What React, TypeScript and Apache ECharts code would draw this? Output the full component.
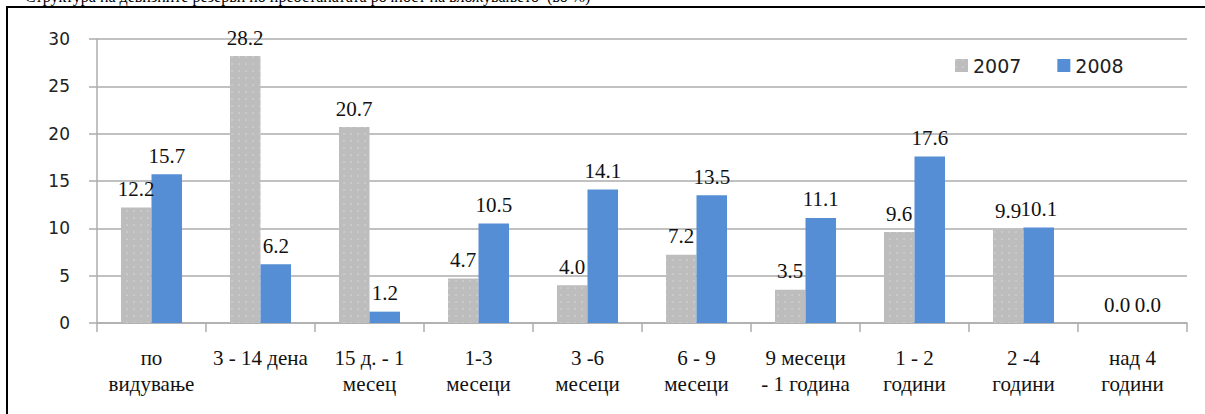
import React, { useEffect, useRef } from "react";
import * as echarts from "echarts";

// Maturity buckets (two-line labels as printed under the axis)
const categories = [
  "по\nвидување",
  "3 - 14 дена",
  "15 д. - 1\nмесец",
  "1-3\nмесеци",
  "3 -6\nмесеци",
  "6 - 9\nмесеци",
  "9 месеци\n- 1 година",
  "1 - 2\nгодини",
  "2 -4\nгодини",
  "над 4\nгодини",
];

const seriesNames = ["2007", "2008"];
const values2007 = [12.2, 28.2, 20.7, 4.7, 4.0, 7.2, 3.5, 9.6, 9.9, 0.0];
const values2008 = [15.7, 6.2, 1.2, 10.5, 14.1, 13.5, 11.1, 17.6, 10.1, 0.0];

const yTicks = { min: 0, max: 30, interval: 5 };

const titleText =
  "Структура на девизните резерви по преостанатата рочност на вложувањето  (во %)";

const GRAY = "#BDBDBD";
const BLUE = "#558ED5";
const GRID = "#ADADAD";
const SERIF = "'Liberation Serif', 'Times New Roman', serif";
const SANS = "'DejaVu Sans', Verdana, sans-serif";

export default function App() {
  const ref = useRef<HTMLDivElement>(null);

  useEffect(() => {
    if (!ref.current) return;
    const chart = echarts.init(ref.current, null, { renderer: "svg" });

    const barLabel = {
      show: true,
      position: "top",
      distance: 8,
      fontFamily: SERIF,
      fontSize: 21,
      color: "#111",
      formatter: (p: any) => Number(p.value).toFixed(1),
    };

    chart.setOption({
      animation: false,
      backgroundColor: "#ffffff",
      grid: { left: 97, right: 18, top: 39, bottom: 91, containLabel: false },
      legend: {
        data: seriesNames,
        left: 950,
        top: 51,
        icon: "rect",
        itemWidth: 13,
        itemHeight: 13,
        itemGap: 36,
        textStyle: { fontFamily: SANS, fontSize: 19, color: "#222" },
      },
      xAxis: {
        type: "category",
        data: categories,
        boundaryGap: true,
        axisLine: { show: true, lineStyle: { color: GRID, width: 1.5 } },
        axisTick: { show: true, length: 9, lineStyle: { color: GRID, width: 1.5 } },
        axisLabel: {
          interval: 0,
          margin: 22,
          fontFamily: SERIF,
          fontSize: 21,
          lineHeight: 26,
          color: "#111",
        },
        splitLine: { show: false },
      },
      yAxis: {
        type: "value",
        min: yTicks.min,
        max: yTicks.max,
        interval: yTicks.interval,
        axisLine: { show: true, lineStyle: { color: GRID, width: 1.5 } },
        axisTick: { show: true, length: 8, lineStyle: { color: GRID, width: 1.5 } },
        axisLabel: { margin: 27, fontFamily: SANS, fontSize: 17, color: "#222" },
        splitLine: { show: true, lineStyle: { color: GRID, width: 1.5 } },
      },
      series: [
        {
          name: seriesNames[0],
          type: "bar",
          data: values2007,
          barGap: "0%",
          barCategoryGap: "44%",
          itemStyle: {
            color: GRAY,
            decal: {
              symbol: "circle",
              symbolSize: 0.6,
              color: "rgba(255,255,255,0.55)",
              dashArrayX: [2, 5],
              dashArrayY: [2, 5],
              rotation: 0,
            },
          },
          label: barLabel,
        },
        {
          name: seriesNames[1],
          type: "bar",
          data: values2008,
          barGap: "0%",
          barCategoryGap: "44%",
          itemStyle: { color: BLUE },
          label: barLabel,
        },
      ],
      graphic: [
        {
          type: "text",
          left: 25,
          top: -12,
          silent: true,
          style: {
            text: titleText,
            fontFamily: SERIF,
            fontSize: 16,
            fill: "#000",
          },
        },
        {
          type: "rect",
          silent: true,
          shape: { x: 7, y: 7, width: 1260, height: 500 },
          style: { fill: "none", stroke: "#000", lineWidth: 2 },
        },
      ],
    });

    return () => chart.dispose();
  }, []);

  return (
    <div
      ref={ref}
      style={{ position: "fixed", left: 0, top: 0, width: 1205, height: 414 }}
    />
  );
}
